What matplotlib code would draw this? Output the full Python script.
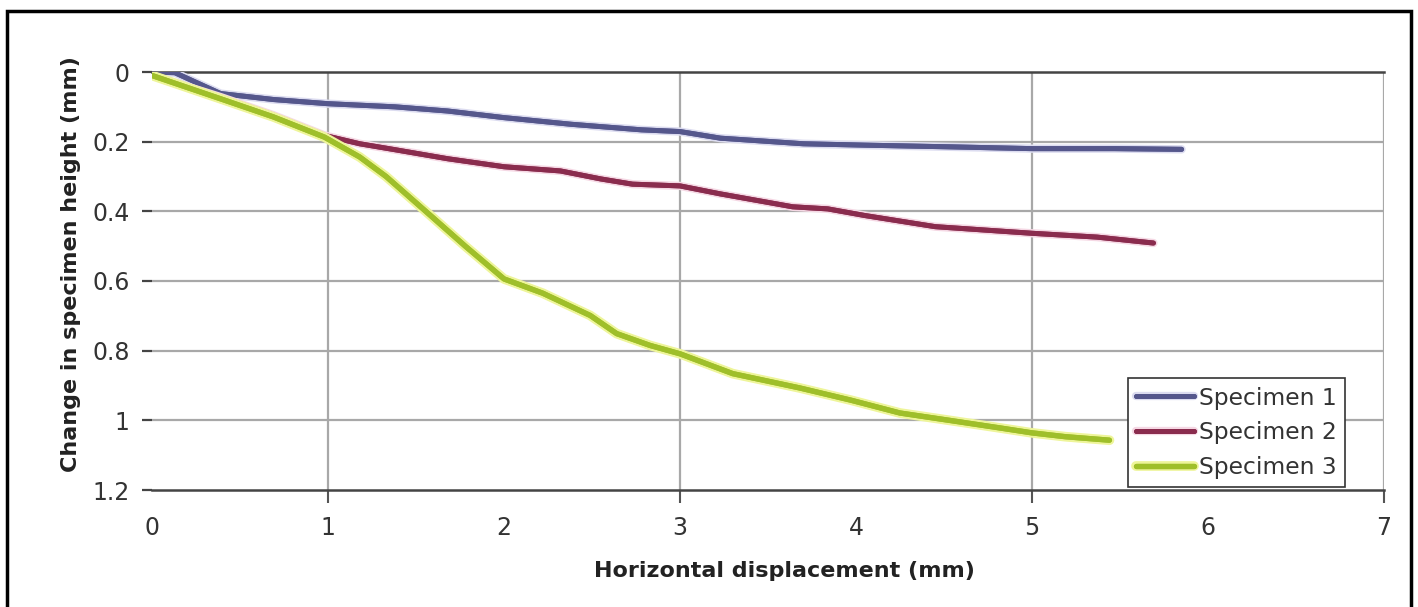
import matplotlib
matplotlib.use("Agg")
import matplotlib.pyplot as plt
import matplotlib.patheffects as pe
from matplotlib.patches import Rectangle

plt.rcParams['font.family'] = ['DejaVu Sans']

s1_x = [0, 0.13, 0.39, 0.69, 1.0, 1.38, 1.68, 2.0, 2.38, 2.78, 3.0, 3.23, 3.70, 4.05, 4.55, 5.0, 5.47, 5.85]
s1_y = [0, 0.002, 0.062, 0.079, 0.091, 0.10, 0.112, 0.131, 0.150, 0.166, 0.171, 0.19, 0.206, 0.21, 0.215, 0.22, 0.22, 0.222]

s2_x = [0, 0.39, 0.69, 0.98, 1.18, 1.38, 1.68, 2.0, 2.32, 2.55, 2.73, 3.0, 3.23, 3.64, 3.84, 4.05, 4.45, 5.0, 5.37, 5.69]
s2_y = [0.01, 0.072, 0.124, 0.182, 0.206, 0.223, 0.249, 0.272, 0.284, 0.307, 0.322, 0.327, 0.35, 0.387, 0.393, 0.412, 0.444, 0.463, 0.474, 0.491]

s3_x = [0, 0.39, 0.69, 0.98, 1.18, 1.33, 1.56, 1.78, 2.0, 2.22, 2.49, 2.64, 2.83, 3.0, 3.30, 3.68, 3.97, 4.25, 4.53, 4.82, 5.0, 5.19, 5.44]
s3_y = [0.01, 0.077, 0.129, 0.187, 0.244, 0.30, 0.402, 0.50, 0.594, 0.635, 0.699, 0.751, 0.785, 0.809, 0.866, 0.907, 0.942, 0.979, 1.0, 1.022, 1.036, 1.047, 1.057]

series_names = ["Specimen 1", "Specimen 2", "Specimen 3"]
x_ticks = [0, 1, 2, 3, 4, 5, 6, 7]
x_grid = [1, 3, 5, 7]
y_ticks = [0, 0.2, 0.4, 0.6, 0.8, 1.0, 1.2]
y_tick_labels = ["0", "0.2", "0.4", "0.6", "0.8", "1", "1.2"]

fig = plt.figure(figsize=(14.18, 6.07), dpi=100)
ax = fig.add_axes([152/1418, 1 - 490/607, (1384-152)/1418, (490-72)/607])

grid_c = "#a8a8a8"
for yv in y_ticks[1:-1]:
    ax.axhline(yv, color=grid_c, lw=1.6, zorder=1)

ax.plot(s1_x, s1_y, color="#55578c", lw=3.6, label=series_names[0], zorder=3, solid_capstyle='round',
        path_effects=[pe.withStroke(linewidth=6, foreground="#dcdcf0"), pe.Normal()])
ax.plot(s2_x, s2_y, color="#8a2c4e", lw=3.6, label=series_names[1], zorder=3, solid_capstyle='round',
        path_effects=[pe.withStroke(linewidth=6, foreground="#f5d8e4"), pe.Normal()])
ax.plot(s3_x, s3_y, color="#9fbf2a", lw=3.8, label=series_names[2], zorder=3, solid_capstyle='round',
        path_effects=[pe.withStroke(linewidth=7, foreground="#eef59a"), pe.Normal()])

ax.set_xlim(0, 7)
ax.set_ylim(1.2, 0)

ax.xaxis.remove_overlapping_locs = False
ax.set_xticks(x_ticks)
ax.set_xticklabels([str(v) for v in x_ticks])
ax.set_xticks(x_grid, minor=True)
ax.tick_params(axis='x', which='major', length=0, pad=19, labelsize=17, labelcolor="#333333")
ax.tick_params(axis='x', which='minor', length=9, width=1.5, color="#555555")
ax.xaxis.grid(True, which='minor', color=grid_c, lw=1.6, zorder=1)
ax.xaxis.grid(False, which='major')

ax.set_yticks(y_ticks)
ax.set_yticklabels(y_tick_labels)
ax.tick_params(axis='y', length=7, width=1.6, color="#444444", pad=9, labelsize=17, labelcolor="#333333")

for side in ['left', 'right']:
    ax.spines[side].set_visible(False)
for side in ['top', 'bottom']:
    ax.spines[side].set_color("#444444")
    ax.spines[side].set_linewidth(1.8)

ax.set_xlabel("Horizontal displacement (mm)", fontsize=16, fontweight='bold', color="#222222")
ax.set_ylabel("Change in specimen height (mm)", fontsize=16, fontweight='bold', color="#222222")
ax.xaxis.set_label_coords(0.513, -0.17)
ax.yaxis.set_label_coords(-0.058, 0.541)

leg = ax.legend(loc='lower right', bbox_to_anchor=(0.9685, 0.007), fontsize=16.8, frameon=True,
                fancybox=False, shadow=False, handlelength=2.5, handletextpad=0.2,
                borderpad=0.35, labelspacing=0.5, borderaxespad=0.0)
leg.get_frame().set_edgecolor("#333333")
leg.get_frame().set_linewidth(1.2)
leg.get_frame().set_facecolor("white")
leg.get_frame().set_alpha(1)
for t in leg.get_texts():
    t.set_color("#333333")

border = Rectangle((7.5/1418, -0.02), (1411-7.5)/1418, 1.02 - 11/607, transform=fig.transFigure,
                   fill=False, edgecolor="black", lw=2.5, clip_on=False)
fig.patches.append(border)

fig.savefig("out.png", dpi=100)
